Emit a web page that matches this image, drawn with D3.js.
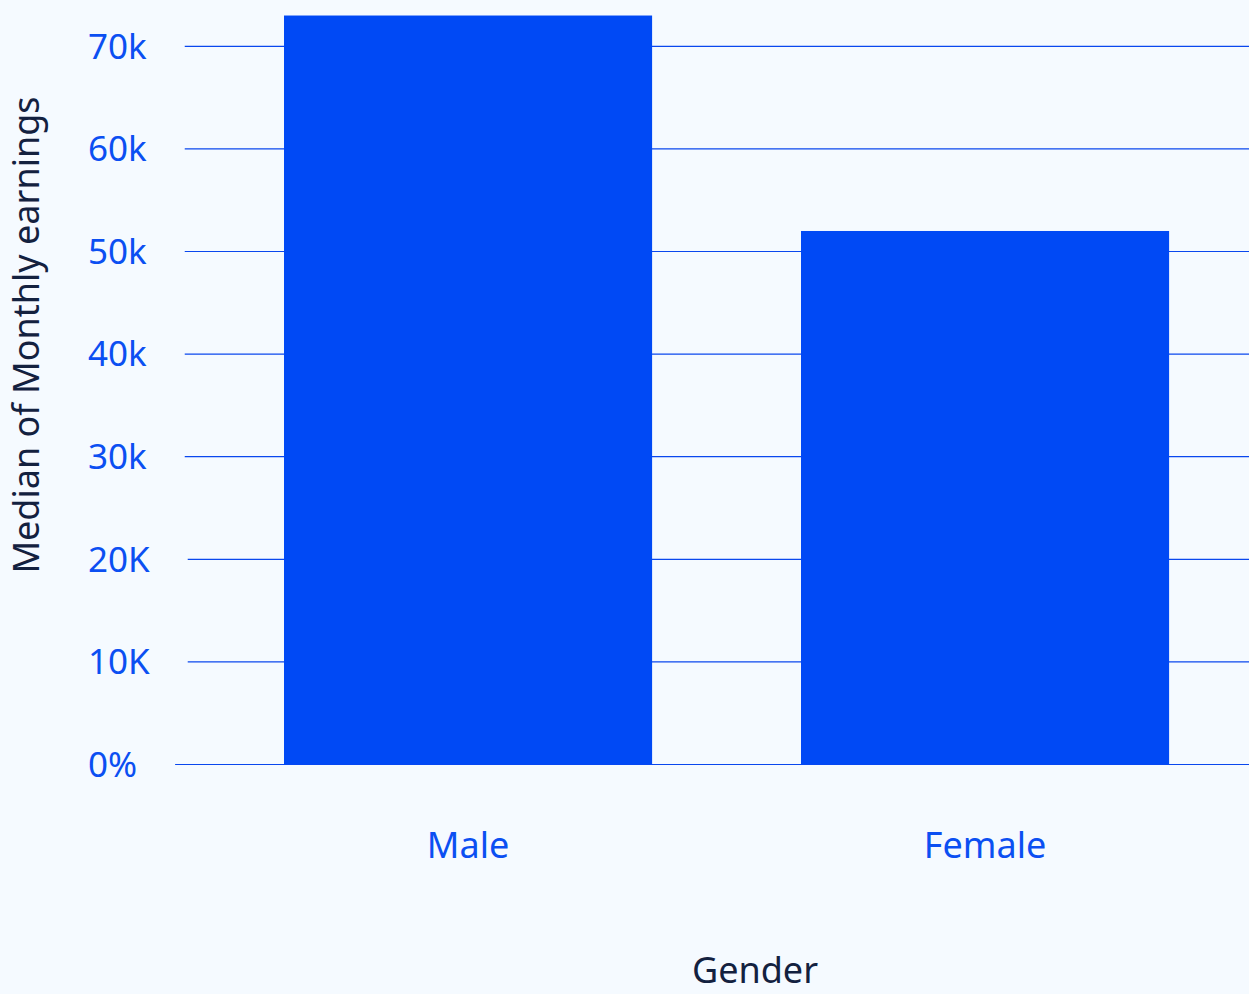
<!DOCTYPE html>
<html>
<head>
<meta charset="utf-8">
<script src="https://cdn.jsdelivr.net/npm/d3@7"></script>
<style>
  html, body { margin: 0; padding: 0; background: #f5faff; }
  svg { display: block; }
  text { font-family: "Noto Sans", "Open Sans", sans-serif; }
</style>
</head>
<body>
<svg id="chart" width="1249" height="994"></svg>
<script>
// Median monthly earnings by gender
const categories = ["Male", "Female"];
const values = [73000, 52000];
const tickValues = [0, 10000, 20000, 30000, 40000, 50000, 60000, 70000];
const tickLabels = ["0%", "10K", "20K", "30k", "40k", "50k", "60k", "70k"];

const W = 1249, H = 994;
const barColor = "#0049f5";
const tickColor = "#0b4ff2";
const titleColor = "#13213f";

const svg = d3.select("#chart");
svg.append("rect").attr("width", W).attr("height", H).attr("fill", "#f5faff");

const y = d3.scaleLinear().domain([0, 70000]).range([764.5, 46.3]);
const x = d3.scaleBand().domain(categories)
  .range([180.6, 1272.5]).paddingInner(0.288).paddingOuter(0.2);

// tick labels and grid lines (each line starts a little right of its label)
const ticks = svg.append("g");
tickValues.forEach((v, i) => {
  const t = ticks.append("text")
    .attr("x", 88).attr("y", y(v))
    .attr("dy", "0.35em")
    .attr("font-size", 35)
    .attr("fill", tickColor)
    .text(tickLabels[i]);
  const end = 88 + t.node().getComputedTextLength();
  ticks.insert("line", "text")
    .attr("x1", end + 38).attr("x2", W)
    .attr("y1", y(v)).attr("y2", y(v))
    .attr("stroke", "#0a47ee").attr("stroke-width", 1.2);
});

// bars
svg.append("g").selectAll("rect").data(categories).join("rect")
  .attr("x", d => x(d))
  .attr("width", x.bandwidth())
  .attr("y", (d, i) => y(values[i]))
  .attr("height", (d, i) => y(0) - y(values[i]))
  .attr("fill", barColor);

// category labels
svg.append("g").selectAll("text").data(categories).join("text")
  .attr("x", d => x(d) + x.bandwidth() / 2)
  .attr("y", 845).attr("dy", "0.35em")
  .attr("text-anchor", "middle")
  .attr("font-size", 36)
  .attr("fill", tickColor)
  .text(d => d);

// axis titles
svg.append("text")
  .attr("transform", "translate(26,335) rotate(-90)")
  .attr("text-anchor", "middle").attr("dy", "0.35em")
  .attr("font-size", 36).attr("fill", titleColor)
  .text("Median of Monthly earnings");

svg.append("text")
  .attr("x", 755).attr("y", 970).attr("dy", "0.35em")
  .attr("text-anchor", "middle")
  .attr("font-size", 36).attr("fill", titleColor)
  .text("Gender");
</script>
</body>
</html>
